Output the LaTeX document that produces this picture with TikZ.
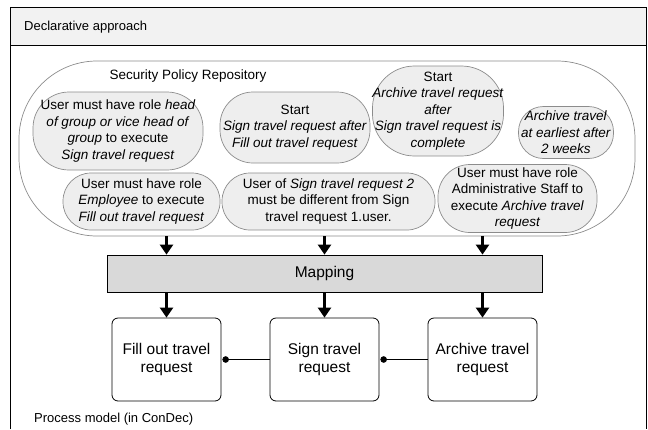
\documentclass[tikz,border=0pt]{standalone}
\usepackage{fontspec}
\setmainfont{Liberation Sans}
\usetikzlibrary{arrows.meta}
\definecolor{hdr}{RGB}{242,242,242}
\definecolor{pfill}{RGB}{238,238,238}
\definecolor{pline}{RGB}{140,140,140}
\definecolor{mfill}{RGB}{217,217,217}
\begin{document}
\begin{tikzpicture}[x=1pt,y=-1pt,
  font=\fontsize{13.5}{16.5}\selectfont,
  pol/.style={draw=pline, line width=0.7pt, fill=pfill, rounded corners=26pt, align=center, inner sep=0pt},
  task/.style={draw, line width=0.8pt, rounded corners=6pt, minimum width=109pt, minimum height=83pt, align=center, font=\fontsize{15.5}{17.3}\selectfont},
  arr/.style={line width=3pt, -{Triangle[length=10pt,width=13pt]}},
  dotline/.style={line width=0.7pt, {Circle[length=6.5pt]}-, shorten <=1pt}]
\useasboundingbox (0,0) rectangle (648,429);
\fill[hdr] (10,7) rectangle (646,45);
\draw[line width=0.9pt] (10,429) -- (10,7) -- (646,7) -- (646,429);
\draw[line width=0.6pt] (10,45) -- (646,45);
\node[anchor=west, inner sep=0pt, font=\fontsize{13}{15}\selectfont] (title) at (24,27) {Declarative approach};
\node[draw=pline, line width=0.7pt, rounded corners=78pt, minimum width=616pt, minimum height=175pt] (repo) at (327,148.5) {};
\node (srp) at (188,76) {Security Policy Repository};
\node[pol, rounded corners=36pt, minimum width=170pt, minimum height=78pt] (e1) at (118,131) {User must have role \textit{head}\\ \textit{of group or vice head of}\\ \textit{group} to execute\\ \textit{Sign travel request}};
\node[pol, rounded corners=33pt, minimum width=150pt, minimum height=71pt] (e2) at (295,127.5) {Start\\ \textit{Sign travel request after}\\ \textit{Fill out travel request}};
\node[pol, rounded corners=42pt, minimum width=130pt, minimum height=90pt] (e3) at (438,111) {Start\\ \textit{Archive travel request}\\ \textit{after}\\ \textit{Sign travel request is}\\ \textit{complete}};
\node[pol, rounded corners=25pt, minimum width=95pt, minimum height=52pt] (e4) at (566,132.5) {\textit{Archive travel}\\ \textit{at earliest after}\\ \textit{2 weeks}};
\node[pol, rounded corners=28pt, minimum width=157pt, minimum height=57pt] (e5) at (141.5,201.5) {User must have role\\ \textit{Employee} to execute\\ \textit{Fill out travel request}};
\node[pol, rounded corners=28pt, minimum width=213pt, minimum height=57pt] (e6) at (328.5,201.5) {User of \textit{Sign travel request 2}\\ must be different from Sign\\ travel request 1.user.};
\node[pol, rounded corners=32pt, minimum width=159pt, minimum height=68pt] (e7) at (517.5,198.5) {User must have role\\ Administrative Staff to\\ execute \textit{Archive travel}\\ \textit{request}};
\node[draw, line width=0.8pt, fill=mfill, minimum width=435pt, minimum height=37pt, font=\fontsize{15.5}{17.3}\selectfont] (map) at (324.5,273.5) {Mapping};
\node[task] (b1) at (166.5,359.5) {Fill out travel\\ request};
\node[task] (b2) at (324.5,359.5) {Sign travel\\ request};
\node[task] (b3) at (482.5,359.5) {Archive travel\\ request};
\foreach \b in {b1,b2,b3}{
  \draw[arr] (repo.south -| \b) -- (map.north -| \b);
  \draw[arr] (map.south -| \b) -- (\b.north);
}
\draw[dotline] (b1.east) -- (b2.west);
\draw[dotline] (b2.east) -- (b3.west);
\node[anchor=west, inner sep=0pt, font=\fontsize{13}{15}\selectfont] (pm) at (34,419) {Process model (in ConDec)};
\end{tikzpicture}
\end{document}
